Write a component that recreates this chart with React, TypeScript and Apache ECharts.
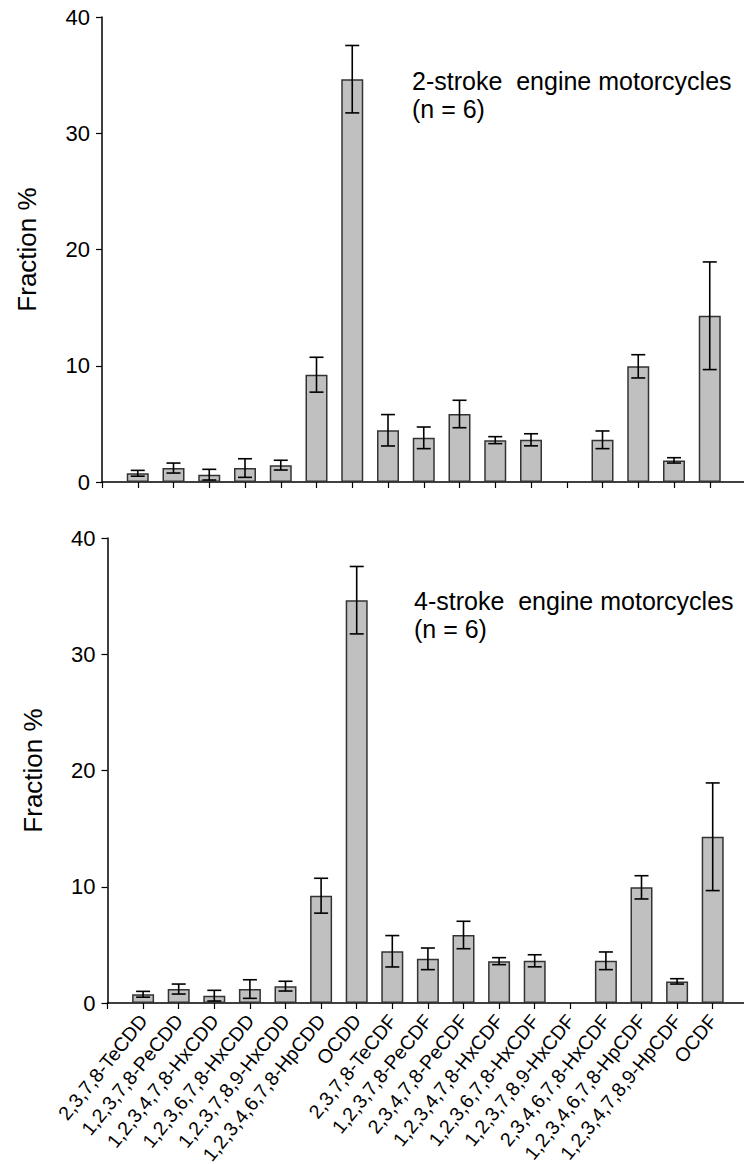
import React, { useEffect, useRef } from "react";
import * as echarts from "echarts";

const categories = [
  "2,3,7,8-TeCDD",
  "1,2,3,7,8-PeCDD",
  "1,2,3,4,7,8-HxCDD",
  "1,2,3,6,7,8-HxCDD",
  "1,2,3,7,8,9-HxCDD",
  "1,2,3,4,6,7,8-HpCDD",
  "OCDD",
  "2,3,7,8-TeCDF",
  "1,2,3,7,8-PeCDF",
  "2,3,4,7,8-PeCDF",
  "1,2,3,4,7,8-HxCDF",
  "1,2,3,6,7,8-HxCDF",
  "1,2,3,7,8,9-HxCDF",
  "2,3,4,6,7,8-HxCDF",
  "1,2,3,4,6,7,8-HpCDF",
  "1,2,3,4,7,8,9-HpCDF",
  "OCDF",
];

const twoStrokeMean = [0.75, 1.2, 0.63, 1.2, 1.45, 9.23, 34.65, 4.45, 3.8, 5.85, 3.6, 3.63, null, 3.63, 9.95, 1.86, 14.3];
const twoStrokeErr = [0.25, 0.43, 0.46, 0.8, 0.42, 1.5, 2.9, 1.35, 0.93, 1.18, 0.3, 0.52, null, 0.76, 1.0, 0.23, 4.63];

const fourStrokeMean = [0.75, 1.2, 0.63, 1.2, 1.45, 9.23, 34.65, 4.45, 3.8, 5.85, 3.6, 3.63, null, 3.63, 9.95, 1.86, 14.3];
const fourStrokeErr = [0.25, 0.43, 0.46, 0.8, 0.42, 1.5, 2.9, 1.35, 0.93, 1.18, 0.3, 0.52, null, 0.76, 1.0, 0.23, 4.63];

const yTicks = [0, 10, 20, 30, 40];

const FONT = "Liberation Sans, Arial, sans-serif";

function barData(means: (number | null)[]) {
  return means.map((v, i) => (v == null ? [i + 1, "-"] : [i + 1, v]));
}
function errData(means: (number | null)[], errs: (number | null)[]) {
  return means
    .map((v, i) => (v == null || errs[i] == null ? null : [i + 1, v - (errs[i] as number), v + (errs[i] as number)]))
    .filter((d) => d !== null);
}

const errRender = (params: any, api: any) => {
  const x = api.value(0);
  const lo = api.coord([x, api.value(1)]);
  const hi = api.coord([x, api.value(2)]);
  const hw = 7;
  const style = { stroke: "#000", lineWidth: 1.6 };
  return {
    type: "group",
    children: [
      { type: "line", shape: { x1: lo[0], y1: lo[1], x2: hi[0], y2: hi[1] }, style },
      { type: "line", shape: { x1: lo[0] - hw, y1: lo[1], x2: lo[0] + hw, y2: lo[1] }, style },
      { type: "line", shape: { x1: hi[0] - hw, y1: hi[1], x2: hi[0] + hw, y2: hi[1] }, style },
    ],
  };
};

export default function App() {
  const ref = useRef<HTMLDivElement>(null);
  useEffect(() => {
    if (!ref.current) return;
    const chart = echarts.init(ref.current, null, { renderer: "svg" });
    const axisLine = { show: true, onZero: false, lineStyle: { color: "#000", width: 1.5 } };
    const axisTick = { show: true, length: 6, lineStyle: { color: "#000", width: 1.2 } };
    const xAxisBase = (gridIndex: number, showLabel: boolean) => ({
      type: "value",
      gridIndex,
      min: 0,
      max: 18,
      interval: 1,
      axisLine,
      axisTick,
      splitLine: { show: false },
      axisLabel: {
        show: showLabel,
        rotate: 51,
        fontSize: 19.5,
        fontFamily: FONT,
        color: "#000",
        margin: 14,
        showMinLabel: true,
        showMaxLabel: true,
        hideOverlap: false,
        formatter: (v: number) => categories[v - 1] ?? "",
      },
    });
    const yAxisBase = (gridIndex: number) => ({
      type: "value",
      gridIndex,
      min: 0,
      max: 40,
      interval: 10,
      axisLine,
      axisTick,
      splitLine: { show: false },
      axisLabel: {
        fontSize: 22,
        fontFamily: FONT,
        color: "#000",
        margin: 12,
        formatter: (v: number) => (yTicks.includes(v) ? String(v) : ""),
      },
      name: "Fraction %",
      nameLocation: "middle",
      nameRotate: 90,
      nameGap: 62,
      nameTextStyle: { fontSize: 26, fontFamily: FONT, color: "#000" },
    });
    const barStyle = { color: "#c0c0c0", borderColor: "#333", borderWidth: 1.5 };
    chart.setOption({
      animation: false,
      grid: [
        { left: 102, top: 17, width: 643.5, height: 465, containLabel: false, outerBoundsMode: "none" },
        { left: 107.5, top: 538, width: 640.8, height: 465, containLabel: false, outerBoundsMode: "none" },
      ],
      xAxis: [xAxisBase(0, false), xAxisBase(1, true)],
      yAxis: [yAxisBase(0), yAxisBase(1)],
      series: [
        { type: "bar", xAxisIndex: 0, yAxisIndex: 0, barWidth: 22, data: barData(twoStrokeMean), itemStyle: barStyle },
        { type: "custom", xAxisIndex: 0, yAxisIndex: 0, renderItem: errRender, encode: { x: 0, y: [1, 2] }, data: errData(twoStrokeMean, twoStrokeErr), z: 5 },
        { type: "bar", xAxisIndex: 1, yAxisIndex: 1, barWidth: 22, data: barData(fourStrokeMean), itemStyle: barStyle },
        { type: "custom", xAxisIndex: 1, yAxisIndex: 1, renderItem: errRender, encode: { x: 0, y: [1, 2] }, data: errData(fourStrokeMean, fourStrokeErr), z: 5 },
      ],
      graphic: [
        {
          type: "text",
          left: 412,
          top: 67,
          style: { text: "2-stroke  engine motorcycles\n(n = 6)", fontSize: 25, lineHeight: 28, fontFamily: FONT, fill: "#000" },
        },
        {
          type: "text",
          left: 414,
          top: 587,
          style: { text: "4-stroke  engine motorcycles\n(n = 6)", fontSize: 25, lineHeight: 28, fontFamily: FONT, fill: "#000" },
        },
      ],
    });
    return () => chart.dispose();
  }, []);
  return <div ref={ref} style={{ position: "absolute", left: 0, top: 0, width: 744, height: 1164 }} />;
}
